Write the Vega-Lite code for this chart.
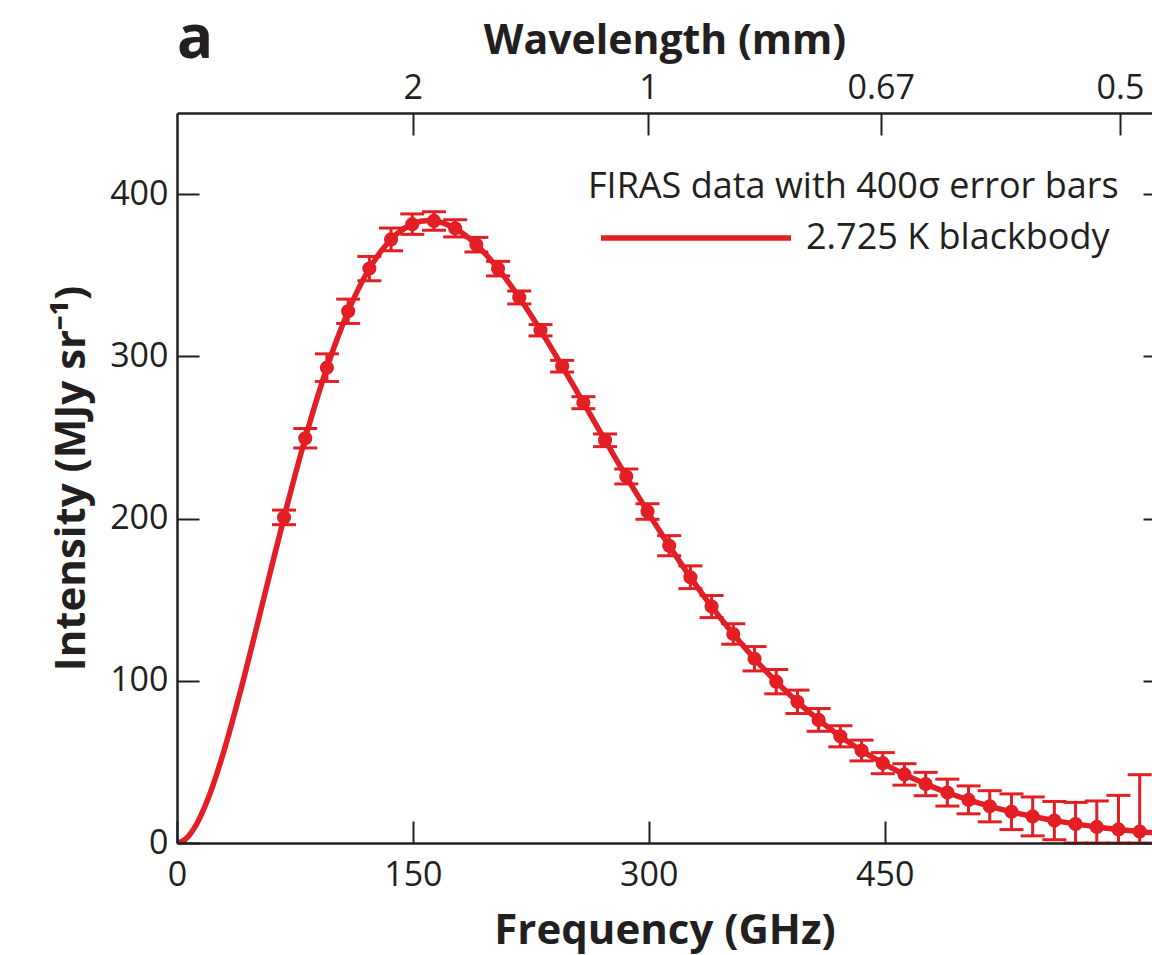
{
  "$schema": "https://vega.github.io/schema/vega-lite/v6.json",
  "width": 975,
  "height": 730,
  "autosize": {"type": "none"},
  "padding": {"left": 177, "top": 113, "right": 0, "bottom": 112},
  "background": "white",
  "config": {
    "view": {"stroke": null},
    "font": "Open Sans",
    "axis": {"labelFont": "Open Sans", "titleFont": "Open Sans", "labelColor": "#231f20", "titleColor": "#231f20", "domainColor": "#231f20", "tickColor": "#231f20", "domainWidth": 2.5, "tickWidth": 2, "labelFontSize": 34, "titleFontSize": 42, "titleFontWeight": "bold", "grid": false, "labelFlush": false, "labelOverlap": false},
    "legend": {"labelFont": "Open Sans", "labelColor": "#231f20", "labelFontSize": 36, "padding": 0}
  },
  "title": {"text": "a", "anchor": "start", "frame": "group", "fontSize": 60, "fontWeight": "bold", "font": "Open Sans", "color": "#231f20", "offset": -46, "dy": 5},
  "datasets": {
    "bb": [
      {"nu": 0, "I": 0}, {"nu": 5, "I": 2.0}, {"nu": 10, "I": 7.66}, {"nu": 20, "I": 27.94}, {"nu": 30, "I": 57.19},
      {"nu": 40, "I": 92.27}, {"nu": 50, "I": 130.5}, {"nu": 60, "I": 169.68}, {"nu": 70, "I": 208.05}, {"nu": 80, "I": 244.19},
      {"nu": 90, "I": 277.05}, {"nu": 100, "I": 305.93}, {"nu": 110, "I": 330.38}, {"nu": 120, "I": 350.13}, {"nu": 130, "I": 365.18},
      {"nu": 140, "I": 375.62}, {"nu": 150, "I": 381.67}, {"nu": 160, "I": 383.66}, {"nu": 170, "I": 381.95}, {"nu": 180, "I": 376.97},
      {"nu": 190, "I": 369.15}, {"nu": 200, "I": 358.92}, {"nu": 210, "I": 346.69}, {"nu": 220, "I": 332.89}, {"nu": 230, "I": 317.87},
      {"nu": 240, "I": 301.97}, {"nu": 250, "I": 285.52}, {"nu": 260, "I": 268.78}, {"nu": 270, "I": 251.95}, {"nu": 280, "I": 235.3},
      {"nu": 290, "I": 218.94}, {"nu": 300, "I": 203.05}, {"nu": 310, "I": 187.7}, {"nu": 320, "I": 173.0}, {"nu": 330, "I": 159.0},
      {"nu": 340, "I": 145.75}, {"nu": 350, "I": 133.26}, {"nu": 360, "I": 121.55}, {"nu": 370, "I": 110.63}, {"nu": 380, "I": 100.47},
      {"nu": 390, "I": 91.05}, {"nu": 400, "I": 82.36}, {"nu": 410, "I": 74.36}, {"nu": 420, "I": 67.02}, {"nu": 430, "I": 60.3},
      {"nu": 440, "I": 54.17}, {"nu": 450, "I": 48.59}, {"nu": 460, "I": 43.51}, {"nu": 470, "I": 38.92}, {"nu": 480, "I": 34.76},
      {"nu": 490, "I": 31.0}, {"nu": 500, "I": 27.62}, {"nu": 510, "I": 24.58}, {"nu": 520, "I": 21.84}, {"nu": 530, "I": 19.39},
      {"nu": 540, "I": 17.2}, {"nu": 550, "I": 15.24}, {"nu": 560, "I": 13.49}, {"nu": 570, "I": 11.93}, {"nu": 580, "I": 10.54},
      {"nu": 590, "I": 9.3}, {"nu": 600, "I": 8.2}, {"nu": 610, "I": 7.23}, {"nu": 620, "I": 6.36}
    ],
    "firas": [
      {"f": 68.05, "v": 200.72, "e": 4.5}, {"f": 81.54, "v": 249.51, "e": 6}, {"f": 95.33, "v": 293.02, "e": 8.5},
      {"f": 108.83, "v": 327.77, "e": 7.5}, {"f": 122.32, "v": 354.08, "e": 7.5}, {"f": 136.11, "v": 372.08, "e": 7},
      {"f": 149.6, "v": 381.49, "e": 6.3}, {"f": 163.39, "v": 383.48, "e": 5.7}, {"f": 176.88, "v": 378.9, "e": 5.3},
      {"f": 190.37, "v": 368.83, "e": 4.5}, {"f": 204.16, "v": 354.06, "e": 4.5}, {"f": 217.65, "v": 336.28, "e": 4},
      {"f": 231.14, "v": 316.08, "e": 3.5}, {"f": 244.93, "v": 293.92, "e": 3.6}, {"f": 258.42, "v": 271.43, "e": 3.7},
      {"f": 272.21, "v": 248.24, "e": 3.9}, {"f": 285.7, "v": 225.94, "e": 4.6}, {"f": 299.19, "v": 204.33, "e": 4.8},
      {"f": 312.98, "v": 183.26, "e": 6.2}, {"f": 326.47, "v": 163.83, "e": 7}, {"f": 339.96, "v": 145.75, "e": 6.8},
      {"f": 353.75, "v": 128.84, "e": 6.3}, {"f": 367.25, "v": 113.57, "e": 7.5}, {"f": 381.04, "v": 99.45, "e": 7.5},
      {"f": 394.53, "v": 87.04, "e": 7.2}, {"f": 408.02, "v": 75.88, "e": 7}, {"f": 421.81, "v": 65.77, "e": 6.5},
      {"f": 435.3, "v": 57.01, "e": 6.4}, {"f": 448.79, "v": 49.22, "e": 6.5}, {"f": 462.58, "v": 42.27, "e": 6.6},
      {"f": 476.07, "v": 36.35, "e": 7.2}, {"f": 489.86, "v": 31.06, "e": 8.3}, {"f": 503.35, "v": 26.58, "e": 8.6},
      {"f": 516.84, "v": 22.64, "e": 9.6}, {"f": 530.63, "v": 19.26, "e": 11}, {"f": 544.12, "v": 16.39, "e": 12},
      {"f": 557.91, "v": 13.81, "e": 11.8}, {"f": 571.4, "v": 11.72, "e": 13.3}, {"f": 584.89, "v": 9.92, "e": 16},
      {"f": 598.68, "v": 8.36, "e": 21}, {"f": 612.17, "v": 7.09, "e": 35}
    ]
  },
  "resolve": {"axis": {"x": "independent", "y": "independent"}},
  "layer": [
    {
      "data": {"name": "bb"},
      "mark": {"type": "line", "strokeWidth": 5.5, "interpolate": "monotone", "clip": true},
      "encoding": {
        "x": {"field": "nu", "type": "quantitative", "scale": {"domain": [0, 620], "nice": false, "zero": false, "clamp": true},
          "axis": {"orient": "bottom", "values": [0, 150, 300, 450], "tickSize": -22, "labelPadding": 37, "title": "Frequency (GHz)", "titlePadding": 18, "zindex": 1}},
        "y": {"field": "I", "type": "quantitative", "scale": {"domain": [0, 450], "nice": false, "zero": false, "clamp": true},
          "axis": {"orient": "left", "values": [0, 100, 200, 300, 400], "tickSize": -22, "labelPadding": 31, "title": "Intensity (MJy sr⁻¹)", "titlePadding": 16, "zindex": 1}},
        "color": {"datum": "2.725 K blackbody", "type": "nominal", "scale": {"range": ["#e31e24"]},
          "legend": {"orient": "none", "legendX": 421, "legendY": 27, "title": null, "symbolType": "stroke", "symbolSize": 36100, "symbolStrokeWidth": 5.5, "labelOffset": 12, "labelLimit": 1000}}
      }
    },
    {
      "data": {"name": "firas"},
      "mark": {"type": "errorbar", "ticks": true, "size": 24, "thickness": 3, "color": "#e31e24", "opacity": 1},
      "encoding": {
        "x": {"field": "f", "type": "quantitative", "axis": null},
        "y": {"field": "v", "type": "quantitative", "axis": null},
        "yError": {"field": "e"}
      }
    },
    {
      "data": {"name": "firas"},
      "mark": {"type": "point", "filled": true, "size": 200, "opacity": 1, "color": "#e31e24"},
      "encoding": {
        "x": {"field": "f", "type": "quantitative",
          "axis": {"orient": "top", "values": [149.9, 299.8, 447.5, 599.6], "labelExpr": "format(299.79 / datum.value, '.2~f')", "tickSize": -22, "labelPadding": 30, "title": "Wavelength (mm)", "titleFontSize": 41, "titlePadding": 9, "zindex": 1}},
        "y": {"field": "v", "type": "quantitative",
          "axis": {"orient": "right", "values": [0, 100, 200, 300, 400], "tickSize": -9, "domain": false, "labels": false, "title": null, "zindex": 1}},
        "shape": {"datum": "FIRAS data with 400σ error bars", "type": "nominal", "scale": {"range": ["circle"]},
          "legend": {"orient": "none", "legendX": 375, "legendY": 56, "title": null, "symbolOpacity": 0, "symbolSize": 1, "labelOffset": 0, "labelLimit": 1000}}
      }
    }
  ]
}
